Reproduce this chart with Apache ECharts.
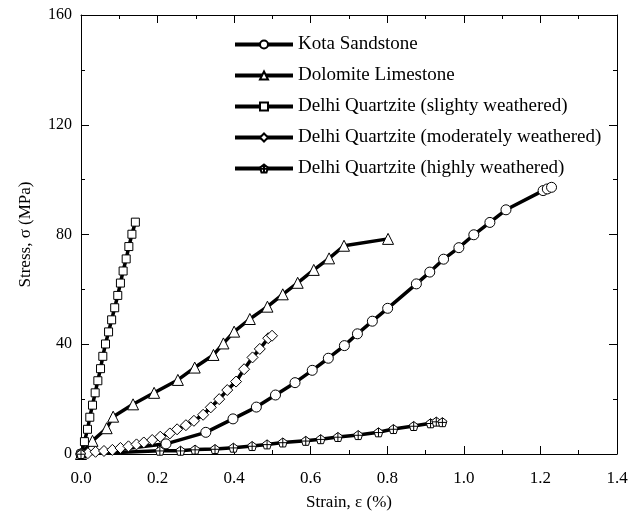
<!DOCTYPE html>
<html>
<head>
    <meta charset="UTF-8">
    <title>Stress-strain curves</title>
    <script src="https://cdn.jsdelivr.net/npm/echarts@6/dist/echarts.min.js"></script>
    <style>
        * { margin: 0; padding: 0; box-sizing: border-box; }
        body { background: #fff; }
        #chart { width: 641px; height: 518px; }
    </style>
</head>
<body>
    <div id="chart"></div>
    <script>
        const seriesNames = [
            'Kota Sandstone',
            'Dolomite Limestone',
            'Delhi Quartzite (slighty weathered)',
            'Delhi Quartzite (moderately weathered)',
            'Delhi Quartzite (highly weathered)'
        ];

        const kotaStrain = [0, 0.222, 0.326, 0.397, 0.458, 0.508, 0.559, 0.604, 0.646, 0.688, 0.722, 0.761, 0.801, 0.876, 0.911, 0.947, 0.987, 1.026, 1.068, 1.110, 1.207, 1.218, 1.229];
        const kotaStress = [0, 3.7, 7.9, 12.8, 17.1, 21.5, 26.0, 30.5, 34.9, 39.5, 43.8, 48.4, 53.1, 62.0, 66.3, 71.0, 75.2, 79.9, 84.4, 89.0, 96.0, 96.6, 97.2];

        const dolomiteStrain = [0, 0.030, 0.067, 0.084, 0.136, 0.191, 0.253, 0.297, 0.346, 0.372, 0.400, 0.441, 0.487, 0.527, 0.566, 0.608, 0.648, 0.687, 0.802];
        const dolomiteStress = [0, 4.8, 9.4, 13.6, 18.1, 22.3, 27.0, 31.5, 36.1, 40.3, 44.6, 49.2, 53.7, 58.2, 62.4, 67.1, 71.3, 75.9, 78.4];

        const slightStrain = [0, 0.009, 0.017, 0.023, 0.030, 0.037, 0.044, 0.051, 0.057, 0.064, 0.072, 0.080, 0.088, 0.096, 0.103, 0.110, 0.118, 0.125, 0.133, 0.142];
        const slightStress = [0, 4.5, 9.0, 13.4, 17.8, 22.3, 26.7, 31.1, 35.6, 40.1, 44.5, 48.9, 53.3, 57.8, 62.3, 66.7, 71.1, 75.6, 80.1, 84.5];

        const moderateStrain = [0, 0.018, 0.038, 0.060, 0.082, 0.103, 0.124, 0.145, 0.164, 0.186, 0.207, 0.232, 0.251, 0.274, 0.295, 0.319, 0.339, 0.361, 0.382, 0.405, 0.426, 0.448, 0.467, 0.489, 0.499];
        const moderateStress = [0, 0.3, 0.8, 1.1, 1.5, 2.2, 2.8, 3.5, 4.2, 5.1, 6.3, 7.5, 9.0, 10.5, 12.1, 14.3, 17.0, 20.0, 23.3, 26.4, 30.9, 35.2, 38.3, 42.2, 43.1];

        const highStrain = [0, 0.206, 0.260, 0.298, 0.350, 0.398, 0.447, 0.486, 0.527, 0.587, 0.626, 0.671, 0.724, 0.777, 0.816, 0.869, 0.913, 0.928, 0.944];
        const highStress = [0, 1.2, 1.2, 1.6, 1.8, 2.3, 2.9, 3.5, 4.2, 4.8, 5.4, 6.2, 6.9, 7.9, 9.1, 10.2, 11.2, 11.8, 11.6];

        const xTicks = [0, 0.2, 0.4, 0.6, 0.8, 1.0, 1.2, 1.4];
        const yTicks = [0, 40, 80, 120, 160];

        const pentagonCross = 'path://M0,-10L9.5,-3.1L5.9,8.1L-5.9,8.1L-9.5,-3.1Z M0,-10L0,8.1 M-9,-0.5L9,-0.5';

        function pairs(xs, ys) {
            return xs.map((x, i) => [x, ys[i]]);
        }

        const serif = 'Liberation Serif';

        function makeSeries(name, data, symbol, size) {
            return {
                name: name,
                type: 'line',
                data: data,
                symbol: symbol,
                symbolSize: size,
                showAllSymbol: true,
                lineStyle: { color: '#000', width: 3.5 },
                itemStyle: { color: '#fff', borderColor: '#000', borderWidth: 1 },
                emphasis: { disabled: true },
                animation: false
            };
        }

        const chart = echarts.init(document.getElementById('chart'));

        const tickStyle = { show: true, inside: true, length: 8, lineStyle: { color: '#000', width: 1 } };
        const minorStyle = { show: true, splitNumber: 2, length: 4, lineStyle: { color: '#000', width: 1 } };
        const lineStyle = { show: true, onZero: false, lineStyle: { color: '#000', width: 1 } };

        chart.setOption({
            backgroundColor: '#fff',
            grid: { left: 81, right: 24, top: 15, bottom: 64 },
            legend: {
                orient: 'vertical',
                left: 233,
                top: 35,
                padding: 0,
                itemWidth: 58,
                itemHeight: 10,
                itemGap: 12,
                data: seriesNames,
                lineStyle: { width: 4 },
                textStyle: { fontFamily: serif, fontSize: 19, color: '#000' }
            },
            xAxis: [{
                type: 'value',
                min: 0,
                max: 1.4,
                interval: 0.2,
                position: 'bottom',
                name: 'Strain, ε (%)',
                nameLocation: 'middle',
                nameGap: 40,
                nameTextStyle: { fontFamily: serif, fontSize: 17, color: '#000' },
                axisLine: lineStyle,
                axisTick: tickStyle,
                minorTick: minorStyle,
                splitLine: { show: false },
                axisLabel: {
                    fontFamily: serif, fontSize: 17, color: '#000', margin: 16,
                    formatter: v => xTicks.includes(+v.toFixed(1)) ? v.toFixed(1) : ''
                }
            }, {
                type: 'value',
                min: 0,
                max: 1.4,
                interval: 0.2,
                position: 'top',
                axisLine: lineStyle,
                axisTick: tickStyle,
                minorTick: minorStyle,
                splitLine: { show: false },
                axisLabel: { show: false }
            }],
            yAxis: [{
                type: 'value',
                min: 0,
                max: 160,
                interval: 40,
                position: 'left',
                name: 'Stress, σ (MPa)',
                nameLocation: 'middle',
                nameGap: 47,
                nameTextStyle: { fontFamily: serif, fontSize: 17, color: '#000' },
                axisLine: lineStyle,
                axisTick: tickStyle,
                minorTick: minorStyle,
                splitLine: { show: false },
                axisLabel: {
                    fontFamily: serif, fontSize: 16, color: '#000', margin: 9,
                    formatter: v => yTicks.includes(v) ? String(v) : ''
                }
            }, {
                type: 'value',
                min: 0,
                max: 160,
                interval: 40,
                position: 'right',
                axisLine: lineStyle,
                axisTick: tickStyle,
                minorTick: minorStyle,
                splitLine: { show: false },
                axisLabel: { show: false }
            }],
            series: [
                makeSeries(seriesNames[0], pairs(kotaStrain, kotaStress), 'circle', 10),
                makeSeries(seriesNames[1], pairs(dolomiteStrain, dolomiteStress), 'triangle', 11),
                makeSeries(seriesNames[2], pairs(slightStrain, slightStress), 'rect', 8),
                makeSeries(seriesNames[3], pairs(moderateStrain, moderateStress), 'diamond', 11),
                makeSeries(seriesNames[4], pairs(highStrain, highStress), pentagonCross, 9)
            ]
        });
    </script>
</body>
</html>
